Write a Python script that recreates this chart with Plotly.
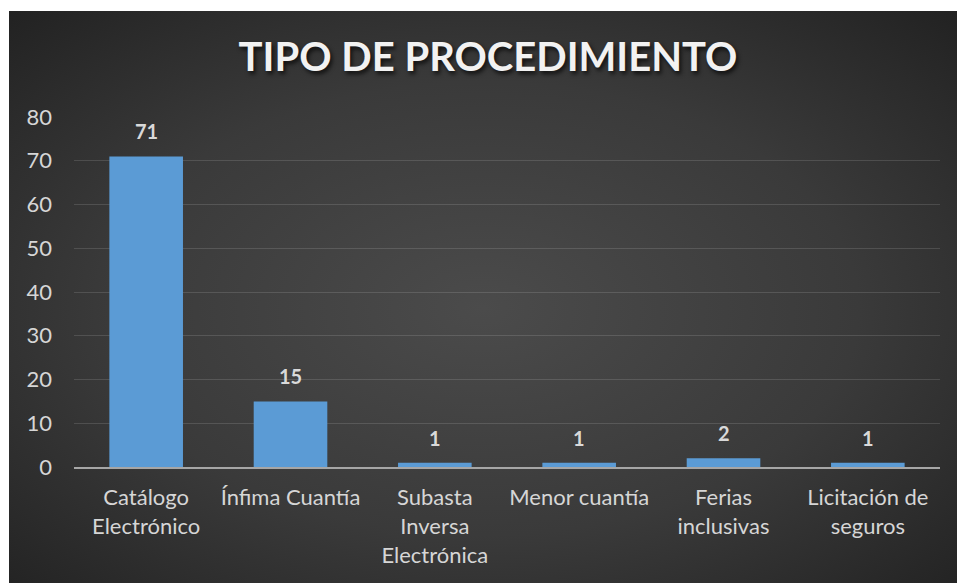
import base64
import plotly.graph_objects as go

# Data
categories = [
    "Catálogo<br>Electrónico",
    "Ínfima Cuantía",
    "Subasta<br>Inversa<br>Electrónica",
    "Menor cuantía",
    "Ferias<br>inclusivas",
    "Licitación de<br>seguros",
]
values = [71, 15, 1, 1, 2, 1]
y_ticks = [0, 10, 20, 30, 40, 50, 60, 70, 80]

W, H = 957, 583
L, R, T, B = 74, 17, 117, 116
plot_w = W - L - R
plot_h = H - T - B

# Dark radial-gradient chart background as an inline SVG
svg = (
    "<svg xmlns='http://www.w3.org/2000/svg' width='948' height='572' preserveAspectRatio='none'>"
    "<defs><radialGradient id='g' cx='50%' cy='52%' r='72%'>"
    "<stop offset='0' stop-color='#4b4b4b'/>"
    "<stop offset='0.55' stop-color='#3a3a3a'/>"
    "<stop offset='1' stop-color='#222222'/>"
    "</radialGradient></defs>"
    "<rect width='100%' height='100%' fill='url(#g)'/></svg>"
)
bg_src = "data:image/svg+xml;base64," + base64.b64encode(svg.encode()).decode()

fig = go.Figure()
fig.add_trace(go.Bar(
    x=categories,
    y=values,
    marker=dict(color="#5b9bd5", line=dict(width=0)),
    hoverinfo="skip",
))

# Value labels above each bar
for c, v in zip(categories, values):
    fig.add_annotation(
        x=c, y=v, xref="x", yref="y",
        text=str(v), showarrow=False,
        yanchor="middle", yshift=25,
        font=dict(family="Lato", size=20, color="#d9d9d9", weight="bold"),
    )

fig.add_layout_image(
    source=bg_src,
    xref="paper", yref="paper",
    x=(9 - L) / plot_w, y=(H - B - 11) / plot_h,
    sizex=(W - 9) / plot_w, sizey=(H - 11) / plot_h,
    xanchor="left", yanchor="top",
    sizing="stretch", layer="below",
)

fig.update_layout(
    width=W, height=H,
    margin=dict(l=L, r=R, t=T, b=B),
    paper_bgcolor="white",
    plot_bgcolor="rgba(0,0,0,0)",
    bargap=0.49,
    showlegend=False,
    title=dict(
        text="TIPO DE PROCEDIMIENTO",
        x=488 / W, xref="container", xanchor="center",
        y=1 - 57 / H, yref="container", yanchor="middle",
        font=dict(family="Lato", size=40, color="#f2f2f2", weight="bold",
                  shadow="2px 3px 4px rgba(0,0,0,0.7)"),
    ),
    font=dict(family="Lato", size=22, color="#d9d9d9"),
    xaxis=dict(
        showline=True, linecolor="#a6a6a6", linewidth=2,
        showgrid=False, ticks="", tickfont=dict(size=22, color="#d6d6d6"),
        ticklabelstandoff=10,
    ),
    yaxis=dict(
        range=[0, 80], tickvals=y_ticks, zeroline=False,
        showgrid=True, gridcolor="rgba(255,255,255,0.13)", gridwidth=1,
        ticks="", tickfont=dict(size=22, color="#d6d6d6"),
        ticklabelstandoff=21,
    ),
)

fig.write_html("out.html")
